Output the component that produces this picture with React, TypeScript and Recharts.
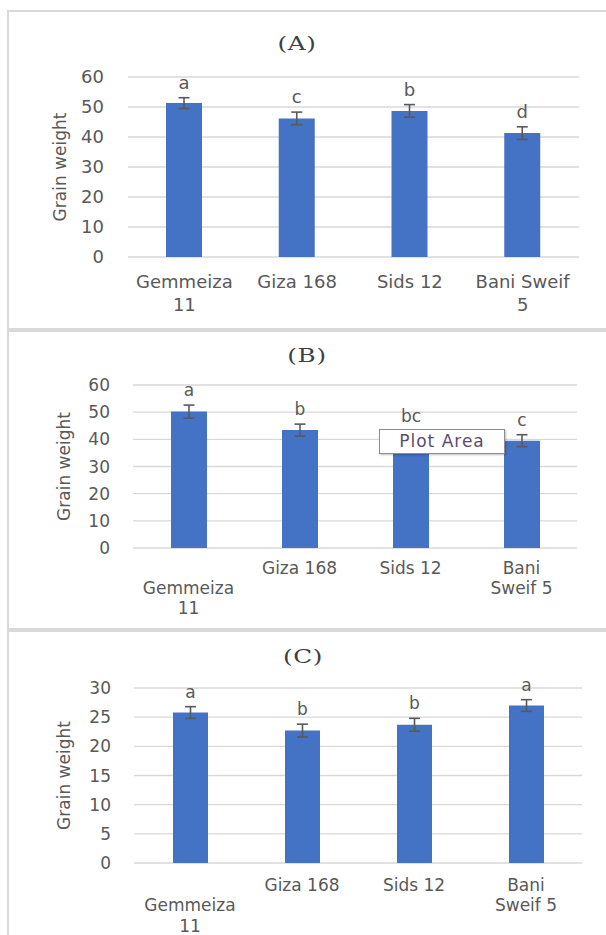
import React from 'react';
import { BarChart, Bar, XAxis, YAxis, CartesianGrid, ErrorBar, LabelList } from 'recharts';

const cultivars = ['Gemmeiza 11', 'Giza 168', 'Sids 12', 'Bani Sweif 5'];

const valuesA = [51.3, 46.2, 48.7, 41.3];
const errorsA = [1.8, 2.1, 2.1, 2.1];
const lettersA = ['a', 'c', 'b', 'd'];

const valuesB = [50.2, 43.4, 41.0, 39.5];
const errorsB = [2.4, 2.2, 2.2, 2.2];
const lettersB = ['a', 'b', 'bc', 'c'];

const valuesC = [25.8, 22.7, 23.7, 27.0];
const errorsC = [1.0, 1.1, 1.1, 1.0];
const lettersC = ['a', 'b', 'b', 'a'];

const ticksAB = [0, 10, 20, 30, 40, 50, 60];
const ticksC = [0, 5, 10, 15, 20, 25, 30];

const tickLinesA = [['Gemmeiza', '11'], ['Giza 168'], ['Sids 12'], ['Bani Sweif', '5']];
const tickLinesBC = [['', 'Gemmeiza', '11'], ['Giza 168'], ['Sids 12'], ['Bani', 'Sweif 5']];

const yLabel = 'Grain weight';
const titles = ['(A)', '(B)', '(C)'];

const SANS = 'DejaVu Sans';
const GREY = '#595959';
const BLUE = '#4472C4';

function buildData(values: number[], errors: number[], letters: string[]) {
  return cultivars.map((name, i) => ({ name, value: values[i], err: errors[i], letter: letters[i], idx: i }));
}

type PanelProps = {
  top: number;
  height: number;
  marginTop: number;
  marginRight: number;
  yAxisWidth: number;
  xAxisHeight: number;
  tickMargin: number;
  data: any[];
  ticks: number[];
  lines: string[][];
  fontSize: number;
  firstDy: number;
  lineHeight: number;
  yLabelX: number;
  barSize: number;
};

function Panel(p: PanelProps) {
  const maxY = p.ticks[p.ticks.length - 1];
  const Tick = (props: any) => {
    const { x, y, payload, index } = props;
    const i = typeof index === 'number' ? index : cultivars.indexOf(payload.value);
    const ls = p.lines[i] || [payload.value];
    return (
      <text x={x} y={y} textAnchor="middle" fill={GREY} fontSize={p.fontSize} fontFamily={SANS}>
        {ls.map((l, k) => (
          <tspan key={k} x={x} y={y + p.firstDy + k * p.lineHeight}>{l}</tspan>
        ))}
      </text>
    );
  };
  const Letter = (props: any) => {
    const vb = props.viewBox && props.viewBox.width !== undefined ? props.viewBox : props;
    const { x, y, width, height } = vb;
    const i = props.value;
    const d = p.data[i];
    const h = Math.abs(height);
    const topY = Math.min(y, y + height);
    const ppu = h / d.value;
    const errTop = topY - d.err * ppu;
    return (
      <text x={x + width / 2} y={errTop - 9} textAnchor="middle" fill={GREY} fontSize={p.fontSize} fontFamily={SANS}>
        {d.letter}
      </text>
    );
  };
  return (
    <div style={{ position: 'absolute', left: 0, top: p.top }}>
      <BarChart
        width={606}
        height={p.height}
        data={p.data}
        margin={{ top: p.marginTop, right: p.marginRight, left: 0, bottom: 0 }}
      >
        <CartesianGrid vertical={false} stroke="#d9d9d9" strokeWidth={1.3} />
        <XAxis
          dataKey="name"
          axisLine={false}
          tickLine={false}
          height={p.xAxisHeight}
          interval={0}
          tick={<Tick />}
        />
        <YAxis
          domain={[0, maxY]}
          ticks={p.ticks}
          width={p.yAxisWidth}
          axisLine={false}
          tickLine={false}
          tickMargin={p.tickMargin}
          tick={{ fill: GREY, fontSize: p.fontSize, fontFamily: SANS }}
          label={{
            content: (lp: any) => {
              const vb = lp.viewBox || {};
              const cy = (vb.y || 0) + (vb.height || 0) / 2;
              return (
                <text
                  transform={`translate(${p.yLabelX}, ${cy}) rotate(-90)`}
                  textAnchor="middle"
                  dominantBaseline="central"
                  fill={GREY}
                  fontSize={17}
                  fontFamily={SANS}
                >
                  {yLabel}
                </text>
              );
            },
          }}
        />
        <Bar dataKey="value" fill={BLUE} barSize={p.barSize} isAnimationActive={false}>
          <ErrorBar dataKey="err" width={5.5} stroke={GREY} strokeWidth={1.6} direction="y" />
          <LabelList dataKey="idx" content={<Letter />} />
        </Bar>
      </BarChart>
    </div>
  );
}

const titleStyle: React.CSSProperties = {
  position: 'absolute',
  width: 120,
  textAlign: 'center',
  fontFamily: 'DejaVu Serif',
  fontSize: 19,
  letterSpacing: 0.5,
  color: '#404040',
  lineHeight: '20px',
  transform: 'scaleX(1.3)',
  transformOrigin: '50% 50%',
};

export default function App() {
  const dataA = buildData(valuesA, errorsA, lettersA);
  const dataB = buildData(valuesB, errorsB, lettersB);
  const dataC = buildData(valuesC, errorsC, lettersC);
  return (
    <div style={{ position: 'absolute', left: 0, top: 0, width: 606, height: 935, background: '#fff', overflow: 'hidden' }}>
      <div style={{ position: 'absolute', left: 7, top: 10, width: 640, height: 318, border: '2px solid #d9d9d9' }} />
      <div style={{ position: 'absolute', left: 7, top: 328, width: 640, height: 300, border: '2px solid #d9d9d9' }} />
      <div style={{ position: 'absolute', left: 7, top: 628, width: 640, height: 340, border: '2px solid #d9d9d9' }} />

      <Panel
        top={0}
        height={330}
        marginTop={77}
        marginRight={27}
        yAxisWidth={128}
        xAxisHeight={73}
        tickMargin={18}
        data={dataA}
        ticks={ticksAB}
        lines={tickLinesA}
        fontSize={18}
        firstDy={23}
        lineHeight={23}
        yLabelX={60}
        barSize={36}
      />
      <Panel
        top={330}
        height={300}
        marginTop={55}
        marginRight={29}
        yAxisWidth={133}
        xAxisHeight={82}
        tickMargin={17}
        data={dataB}
        ticks={ticksAB}
        lines={tickLinesBC}
        fontSize={17}
        firstDy={18}
        lineHeight={20}
        yLabelX={64}
        barSize={36}
      />
      <Panel
        top={630}
        height={305}
        marginTop={58}
        marginRight={24}
        yAxisWidth={134}
        xAxisHeight={72}
        tickMargin={17}
        data={dataC}
        ticks={ticksC}
        lines={tickLinesBC}
        fontSize={17}
        firstDy={19.5}
        lineHeight={20.5}
        yLabelX={64}
        barSize={35}
      />

      <div style={{ ...titleStyle, left: 297 - 60, top: 33 }}>{titles[0]}</div>
      <div style={{ ...titleStyle, left: 307 - 60, top: 345 }}>{titles[1]}</div>
      <div style={{ ...titleStyle, left: 303 - 60, top: 646 }}>{titles[2]}</div>

      <div
        style={{
          position: 'absolute',
          left: 379,
          top: 429,
          width: 124,
          height: 23,
          border: '1px solid #8c8c8c',
          background: '#fff',
          boxShadow: '1px 1px 2px rgba(0,0,0,0.25)',
          fontFamily: SANS,
          fontSize: 17,
          letterSpacing: 1,
          color: '#5b4d6b',
          lineHeight: '23px',
          textAlign: 'center',
        }}
      >
        Plot Area
      </div>
    </div>
  );
}
